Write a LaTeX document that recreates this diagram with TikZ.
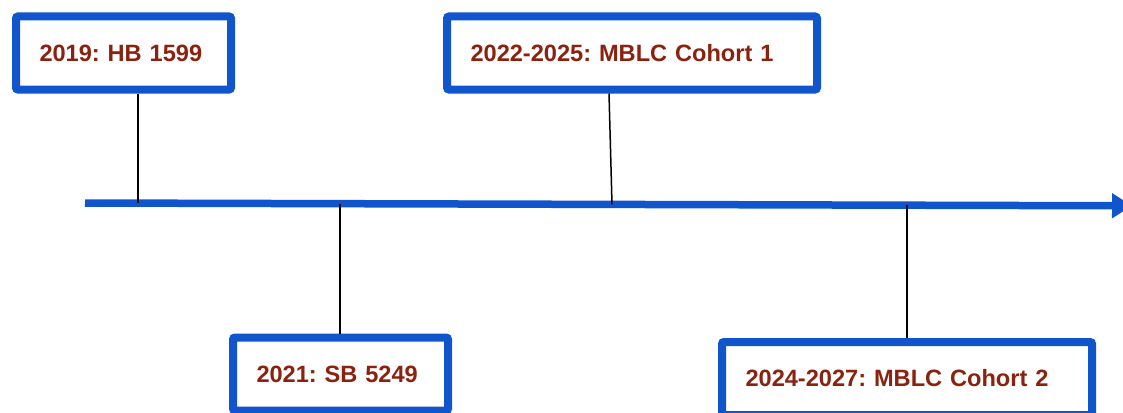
\documentclass[tikz,border=0pt]{standalone}
\usepackage{fontspec}
\setmainfont{Liberation Sans}
\usetikzlibrary{arrows.meta}
\definecolor{lineblue}{HTML}{1155CC}
\definecolor{labelred}{HTML}{8B2210}
\frenchspacing

\begin{document}
\begin{tikzpicture}[x=1pt,y=-1pt,
  event/.style={draw=lineblue, line width=8pt, fill=white, rounded corners=2pt,
    minimum height=73pt, inner xsep=23.5pt, align=left, text=labelred,
    font=\fontsize{23.6}{28}\selectfont\bfseries},
  shortbox/.style={event, text width=168pt},
  longbox/.style={event, text width=323pt},
  tick/.style={line width=1.5pt}]
\useasboundingbox (0,0) rectangle (1123,412);
\clip (0,0) rectangle (1123,412);

% timeline
\coordinate (start) at (85,203);
\coordinate (end) at (1132,205.8);
\draw[lineblue, line width=7.5pt, -{Triangle[length=20pt,width=24pt]}] (start) -- (end);

\coordinate (y2019) at (138,203.1);
\coordinate (y2021) at (340,203.7);
\coordinate (y2022) at (612,204.4);
\coordinate (y2024) at (907,205.2);

% events
\node[shortbox] (hb) at (123.5,53) {2019: HB 1599};
\node[longbox] (cohortone) at (632,53) {2022-2025: MBLC Cohort 1};
\node[shortbox] (sb) at (340.5,374) {2021: SB 5249};
\node[longbox] (cohorttwo) at (907,378.5) {2024-2027: MBLC Cohort 2};

\draw[tick] (y2019 |- hb.south) -- (y2019);
\draw[tick] ([xshift=-3pt]y2022 |- cohortone.south) -- (y2022);
\draw[tick] (y2021) -- (y2021 |- sb.north);
\draw[tick] (y2024) -- (y2024 |- cohorttwo.north);

\end{tikzpicture}
\end{document}
